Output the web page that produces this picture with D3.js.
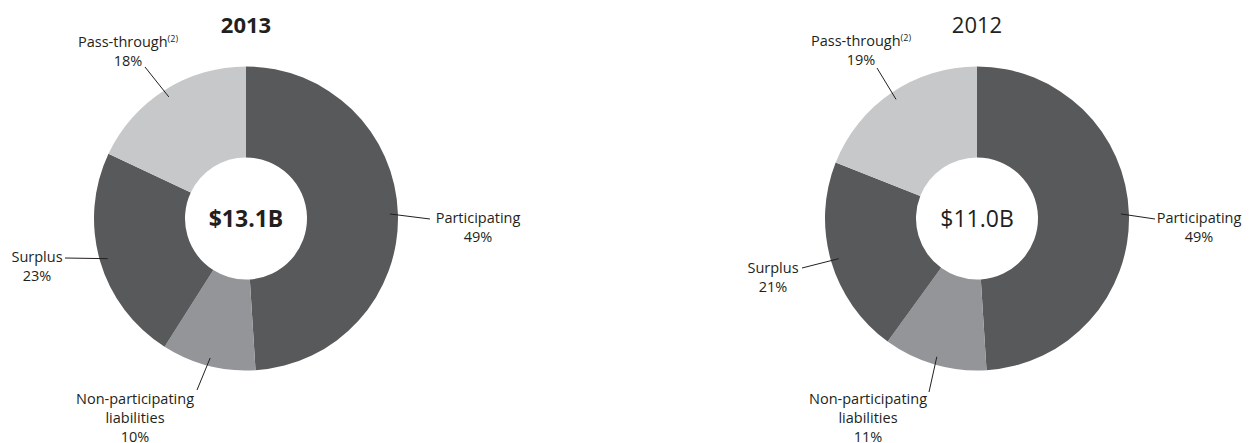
<!DOCTYPE html>
<html>
<head>
<meta charset="utf-8">
<script src="https://cdn.jsdelivr.net/npm/d3@7"></script>
<style>
  body { margin: 0; background: #fff; }
  svg { display: block; font-family: "Open Sans", "Noto Sans", sans-serif; }
</style>
</head>
<body>
<div id="chart"></div>
<script>
// data
const categories = ['Participating', 'Non-participating|liabilities', 'Surplus', 'Pass-through']
const footnotes = ['', '', '', '(2)']
const years = ['2013', '2012']
const totals = ['$13.1B', '$11.0B']
const values2013 = [49, 10, 23, 18]
const values2012 = [49, 11, 21, 19]

const colors = ['#58595b', '#939598', '#58595b', '#c7c8ca']

const W = 1252, H = 443
const outerR = 152, innerR = 61, leaderR = 144, lineH = 19

// layout of each donut: centre, and label text / leader-end offsets from centre
const charts = [
  {
    year: years[0], total: totals[0], values: values2013, cx: 246, bold: true,
    text: [[232, 4.5], [-111, 185.5], [-209, 43.5], [-118, -171.5]],
    ends: [[184, 0.5], [-49, 171.5], [-181, 39.5], [-101, -151.5]]
  },
  {
    year: years[1], total: totals[1], values: values2012, cx: 977, bold: false,
    text: [[222, 4.5], [-109, 185.5], [-204, 54.5], [-116, -172.5]],
    ends: [[178, 0.5], [-48, 173.5], [-175, 49.5], [-100, -150.5]]
  }
]
const cy = 218.5

const svg = d3.select('#chart')
  .append('svg')
  .attr('width', W)
  .attr('height', H)

const pie = d3.pie().sort(null).value(d => d)
const arc = d3.arc().innerRadius(innerR).outerRadius(outerR)

charts.forEach(c => {
  const g = svg.append('g').attr('transform', `translate(${c.cx},${cy})`)
  const arcs = pie(c.values)

  g.selectAll('path')
    .data(arcs)
    .enter()
    .append('path')
    .attr('d', arc)
    .attr('fill', (d, i) => colors[i])

  // title
  g.append('text')
    .attr('x', 0)
    .attr('y', 33 - cy)
    .attr('text-anchor', 'middle')
    .style('font-size', '22px')
    .style('font-weight', c.bold ? 'bold' : 'normal')
    .style('fill', '#231f20')
    .text(c.year)

  // total in the middle
  g.append('text')
    .attr('x', 0)
    .attr('y', 0)
    .attr('dy', '0.36em')
    .attr('text-anchor', 'middle')
    .style('font-size', '23px')
    .style('font-weight', c.bold ? 'bold' : 'normal')
    .style('fill', '#231f20')
    .text(c.total)

  // leaders + labels
  arcs.forEach((d, i) => {
    const a = (d.startAngle + d.endAngle) / 2
    const x0 = Math.sin(a) * leaderR, y0 = -Math.cos(a) * leaderR
    g.append('line')
      .attr('x1', x0).attr('y1', y0)
      .attr('x2', c.ends[i][0]).attr('y2', c.ends[i][1])
      .attr('stroke', '#231f20')
      .attr('stroke-width', 1)

    const lines = categories[i].split('|').concat([d.data + '%'])
    const t = g.append('text')
      .attr('text-anchor', 'middle')
      .style('font-size', '14.5px')
      .style('fill', '#231f20')
    lines.forEach((ln, j) => {
      const ts = t.append('tspan')
        .attr('x', c.text[i][0])
        .attr('y', c.text[i][1] + j * lineH)
        .text(ln)
      if (j === 0 && footnotes[i]) {
        ts.append('tspan')
          .attr('dy', -5)
          .style('font-size', '9px')
          .text(footnotes[i])
      }
    })
  })
})
</script>
</body>
</html>
